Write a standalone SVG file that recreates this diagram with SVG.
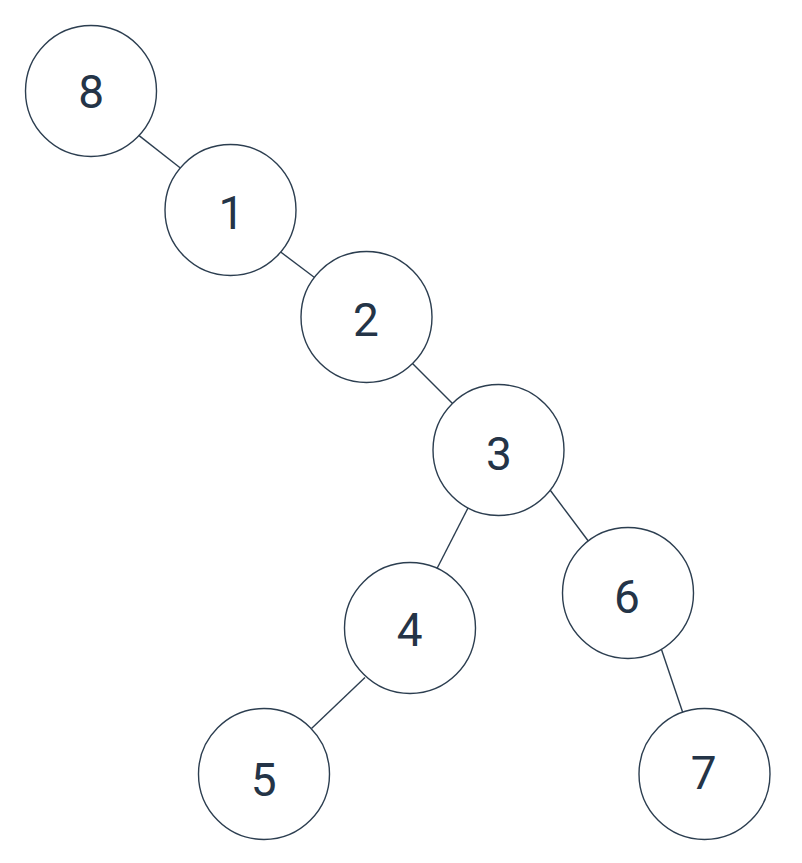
<svg xmlns="http://www.w3.org/2000/svg" width="802" height="863" viewBox="0 0 802 863">
<style>
.edge{stroke:#2c3e50;stroke-width:1.4;fill:none}
.node circle{fill:#ffffff;stroke:#2c3e50;stroke-width:1.4}
.node text{font-family:Roboto,"Liberation Sans",sans-serif;font-size:46px;fill:#243447;text-anchor:middle}
</style>
<rect width="802" height="863" fill="#ffffff"/>
<g id="connectors">
<line class="edge" x1="137.5" y1="134.4" x2="181" y2="168.5"/>
<line class="edge" x1="280" y1="251.5" x2="314.5" y2="277.5"/>
<line class="edge" x1="412.5" y1="363.5" x2="453" y2="404"/>
<line class="edge" x1="468" y1="508" x2="436.5" y2="569.5"/>
<line class="edge" x1="549.3" y1="489" x2="589" y2="542"/>
<line class="edge" x1="365" y1="677.6" x2="311.5" y2="728.5"/>
<line class="edge" x1="661.3" y1="649" x2="683" y2="713.3"/>
</g>
<g id="node8" class="node"><circle cx="91" cy="91" r="65.5"/><text x="91.3" y="108.2">8</text></g>
<g id="node1" class="node"><circle cx="230.5" cy="210" r="65.5"/><text x="231.5" y="228.5">1</text></g>
<g id="node2" class="node"><circle cx="366.5" cy="317" r="65.5"/><text x="366" y="335.5">2</text></g>
<g id="node3" class="node"><circle cx="498.5" cy="450" r="65.5"/><text x="499" y="470">3</text></g>
<g id="node4" class="node"><circle cx="410" cy="628" r="65.5"/><text x="409.7" y="645.5">4</text></g>
<g id="node6" class="node"><circle cx="628" cy="593" r="65.5"/><text x="627" y="612.5">6</text></g>
<g id="node5" class="node"><circle cx="264" cy="774" r="65.5"/><text x="263.7" y="796">5</text></g>
<g id="node7" class="node"><circle cx="704.5" cy="774" r="65.5"/><text x="703.8" y="789">7</text></g>
</svg>
